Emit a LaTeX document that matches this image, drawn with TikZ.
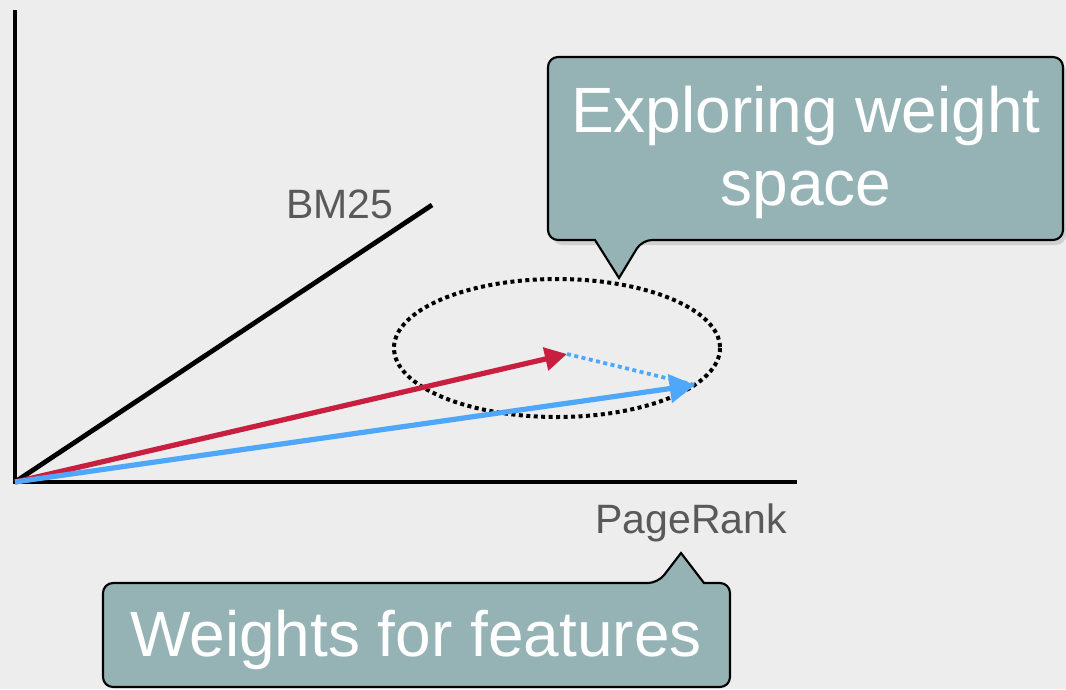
\documentclass[tikz,border=0pt]{standalone}
\usepackage{fontspec}
\setmainfont{Liberation Sans}
\usetikzlibrary{arrows.meta}
\definecolor{bg}{RGB}{236,237,236}
\definecolor{calloutfill}{RGB}{149,179,181}
\definecolor{redvec}{RGB}{200,30,64}
\definecolor{bluevec}{RGB}{78,167,248}
\definecolor{labelgray}{RGB}{89,89,89}
\tikzset{
  axis/.style={line width=3.6pt, line cap=butt},
  vec/.style={line width=3.9pt},
  callout/.style={draw=black, line width=1.6pt, fill=calloutfill, line join=miter},
  shadowpath/.style={fill=black, opacity=0.12},
  bigtext/.style={text=white, font=\fontsize{48}{56}\selectfont, inner sep=0pt, anchor=base},
  axislabel/.style={text=labelgray, font=\fontsize{30.75}{36}\selectfont, inner sep=0pt, anchor=base west},
  dotline/.style={dash pattern=on 3pt off 2.6pt},
}
\begin{document}
\begin{tikzpicture}[x=0.75pt, y=-0.75pt]
\fill[bg] (0,0) rectangle (1066,689);
\useasboundingbox (0,0) rectangle (1066,689);

% axes
\coordinate (O) at (15,482);
\coordinate (ytop) at (15,10);
\coordinate (xend) at (797,482);
\coordinate (bmend) at (432,205);
\draw[axis] (ytop) -- (15,484);
\draw[axis] (13,482) -- (xend);
\draw[axis] (O) -- (bmend);

% labels
\node[axislabel] (bm) at (286,218) {BM25};
\node[axislabel] (pr) at (595,533) {PageRank};

% ellipse
\coordinate (ec) at (557,348);
\draw[line width=3pt, dotline] (ec) ellipse [x radius=163, y radius=69];

% vectors
\coordinate (rtip) at (567,354);
\coordinate (btip) at (695,385);
\draw[bluevec, line width=2.8pt, dotline] (rtip) -- (btip);
\draw[vec, redvec, -{Triangle[length=16.5pt, width=17pt]}] (O) -- (rtip);
\draw[vec, bluevec, -{Triangle[length=19pt, width=21pt]}] (O) -- (btip);

% top callout
\fill[shadowpath] (552,62) [rounded corners=7.5pt] -- (1066,62) -- (1066,245) -- (552,245) -- cycle;
\draw[callout] (619,278) -- (595,240) [rounded corners=7.5pt] -- (548,240) -- (548,57) -- (1063,57) -- (1063,240) -- (642,240) [sharp corners] -- cycle;
\node[bigtext] (t1) at (806,132) {Exploring weight};
\node[bigtext] (t2) at (806,205) {space};

% bottom callout
\draw[callout] (681,553) -- (704,583) [rounded corners=7.5pt] -- (730,583) -- (730,687) -- (103,687) -- (103,583) -- (658,583) [sharp corners] -- cycle;
\node[bigtext] (w) at (416,656) {Weights for features};
\end{tikzpicture}
\end{document}
